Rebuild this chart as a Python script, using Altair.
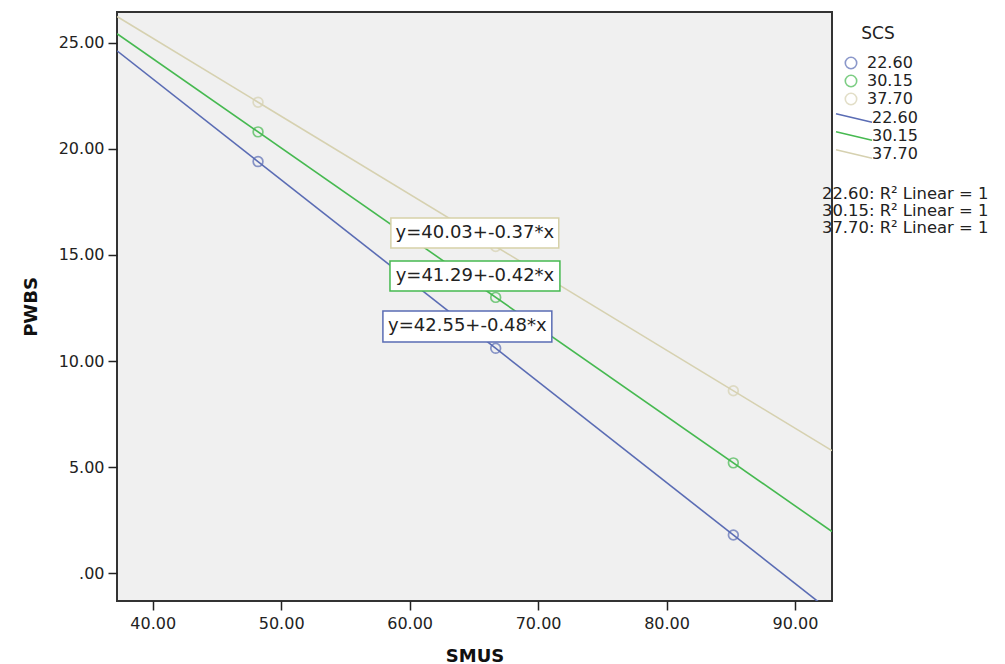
import altair as alt
import pandas as pd

# ---- data ----
scs_levels = ["22.60", "30.15", "37.70"]
smus_values = [48.2, 66.7, 85.2]
pwbs_2260 = [19.4, 10.6, 1.8]
pwbs_3015 = [20.8, 13.0, 5.2]
pwbs_3770 = [22.2, 15.4, 8.6]
equations = ["y=42.55+-0.48*x", "y=41.29+-0.42*x", "y=40.03+-0.37*x"]
r2_labels = ["22.60: R² Linear = 1", "30.15: R² Linear = 1", "37.70: R² Linear = 1"]
x_ticks = [40, 50, 60, 70, 80, 90]
y_ticks = [0, 5, 10, 15, 20, 25]

# annotation box extents (data units)
box_x1 = [57.92, 58.47, 58.54]
box_x2 = [71.07, 71.70, 71.61]
box_y1 = [10.90, 13.30, 15.33]
box_y2 = [12.36, 14.72, 16.74]

colors = ["#5A6CB4", "#46B950", "#D6D1B0"]
box_colors = ["#5A6CB4", "#46B950", "#D6D1A8"]
FONT = "DejaVu Sans"

rows = []
for lvl, ys in zip(scs_levels, [pwbs_2260, pwbs_3015, pwbs_3770]):
    for xv, yv in zip(smus_values, ys):
        rows.append({"SCS": lvl, "SCS_line": lvl, "SMUS": xv, "PWBS": yv})
df = pd.DataFrame(rows)

xscale = alt.Scale(domain=[37.22, 92.88], nice=False, zero=False)
yscale = alt.Scale(domain=[-1.31, 26.45], nice=False, zero=False)

xaxis = alt.Axis(values=x_ticks, format=".2f", tickSize=9, tickWidth=1.5, tickColor="#222",
                 domain=False, grid=False, labelFont=FONT, labelFontSize=16, labelColor="#222",
                 labelPadding=5, title="SMUS", titleFont=FONT, titleFontSize=18,
                 titleFontWeight="bold", titleColor="#111", titlePadding=16)
yaxis = alt.Axis(values=y_ticks, labelExpr="datum.value == 0 ? '.00' : format(datum.value, '.2f')",
                 tickSize=9, tickWidth=1.5, tickColor="#222", domain=False, grid=False,
                 labelFont=FONT, labelFontSize=16, labelColor="#222", labelPadding=4,
                 title="PWBS", titleFont=FONT, titleFontSize=18, titleFontWeight="bold",
                 titleColor="#111", titlePadding=18)

base = alt.Chart(df)

lines = base.transform_regression(
    "SMUS", "PWBS", groupby=["SCS_line"], extent=[37.22, 92.88]
).mark_line(strokeWidth=1.6, clip=True).encode(
    x=alt.X("SMUS:Q", scale=xscale, axis=xaxis),
    y=alt.Y("PWBS:Q", scale=yscale, axis=yaxis),
    stroke=alt.Stroke("SCS_line:N", scale=alt.Scale(range=colors),
                      legend=alt.Legend(title=None, orient="none", legendX=729, legendY=98,
                                        symbolType="M-3,-0.7L3,0.7", symbolSize=144,
                                        symbolStrokeWidth=1.5, labelFont=FONT, labelFontSize=16,
                                        labelColor="#222", rowPadding=2, labelOffset=10)),
)

points = base.mark_point(shape="circle", filled=False, size=95, strokeWidth=1.7).encode(
    x=alt.X("SMUS:Q", scale=xscale, axis=xaxis),
    y=alt.Y("PWBS:Q", scale=yscale, axis=yaxis),
    color=alt.Color("SCS:N", scale=alt.Scale(domain=scs_levels, range=colors),
                    legend=alt.Legend(title="SCS", orient="none", legendX=726, legendY=14,
                                      titleFont=FONT, titleFontSize=17, titleFontWeight="normal",
                                      titleColor="#222", titleAnchor="middle", titlePadding=12,
                                      symbolType="circle", symbolSize=130, symbolStrokeWidth=1.6,
                                      labelFont=FONT, labelFontSize=16, labelColor="#222",
                                      rowPadding=0, labelOffset=8)),
)

ann = pd.DataFrame({"eq": equations, "x1": box_x1, "x2": box_x2, "y1": box_y1, "y2": box_y2})
layers = [lines, points]
for i in range(len(equations)):
    sub = ann.iloc[[i]]
    layers.append(alt.Chart(sub).mark_rect(fill="white", stroke=box_colors[i], strokeWidth=1.5).encode(
        x="x1:Q", x2="x2:Q", y="y1:Q", y2="y2:Q"))
eq_text = alt.Chart(ann).transform_calculate(
    xc="(datum.x1 + datum.x2) / 2", yc="(datum.y1 + datum.y2) / 2"
).mark_text(font=FONT, fontSize=18, color="#222", align="center", baseline="middle").encode(
    x="xc:Q", y="yc:Q", text="eq:N")
layers.append(eq_text)

r2_text = alt.Chart(pd.DataFrame({"k": [0]})).mark_text(
    text=r2_labels, font=FONT, fontSize=16.4, color="#222", align="left", baseline="top", lineHeight=17
).encode(x=alt.value(705), y=alt.value(174))
layers.append(r2_text)

chart = alt.layer(*layers).properties(
    width=715, height=589,
    autosize=alt.AutoSizeParams(type="none"),
    padding={"left": 109, "top": 4, "right": 165, "bottom": 62},
    background="white",
).configure_view(fill="#F0F0F0", stroke="#333333", strokeWidth=2)

chart.save("out.html", embed_options={"renderer": "svg", "actions": False})
